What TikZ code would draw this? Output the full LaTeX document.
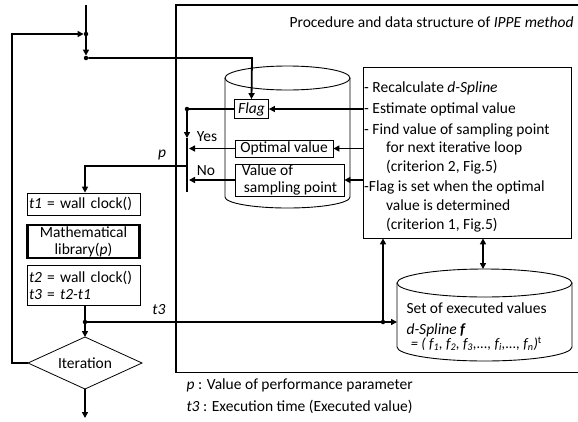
\documentclass[tikz,border=0pt]{standalone}
\usepackage{fontspec}
\setmainfont{Carlito}
\usetikzlibrary{arrows.meta}
\begin{document}
\begin{tikzpicture}[x=1pt,y=-1pt,
  every node/.style={font=\fontsize{15.5}{17}\selectfont},
  conn/.style={line width=1.8pt},
  arr/.style={conn,-{Triangle[length=6pt,width=6pt]}},
  dblarr/.style={conn,{Triangle[length=6pt,width=6pt]}-{Triangle[length=6pt,width=6pt]}},
  box/.style={draw,line width=0.8pt,inner sep=0pt},
  thickbox/.style={draw,line width=2.6pt,inner sep=0pt},
  jdot/.style={circle,fill,inner sep=0pt,minimum size=4.5pt},
  cyl/.style={line width=0.9pt}
]
\useasboundingbox (0,0) rectangle (578,421);

% outer frame (right side beyond the picture)
\draw[conn] (580,5) -- (176,5) -- (176,372.5) -- (580,372.5);
\node[anchor=east] (title) at (577,22) {Procedure and data structure of \textit{IPPE method}};

% cylinder 1
\draw[cyl,fill=white] (225,78) -- (225,197) .. controls (225,203.1) and (253,208) .. (287.5,208)
   .. controls (322,208) and (350,203.1) .. (350,197) -- (350,78);
\draw[cyl] (287.5,78) ellipse [x radius=62.5, y radius=12];

% cylinder 2
\draw[cyl] (397,283) -- (397,347) .. controls (397,354.7) and (436.2,361) .. (484.5,361)
   .. controls (532.8,361) and (572,354.7) .. (572,347) -- (572,283);
\draw[cyl] (484.5,283) ellipse [x radius=87.5, y radius=14];
\coordinate (cyl2w) at (397,322);
\coordinate (cyl2n) at (483,269);
\node[anchor=west] (setv) at (403,308) {Set of executed values};
\node[anchor=west] (dspl) at (403,330) {\textit{d-Spline} \textbf{\textit{f}}};
\node[anchor=west,font=\fontsize{14.5}{15}\selectfont\itshape] (formula) at (405,344)
  {\,= ( f\textsubscript{1}, f\textsubscript{2}, f\textsubscript{3},..., f\textsubscript{i},..., f\textsubscript{n})\textsuperscript{\upshape t}};

% boxes inside cylinder 1
\node[box, minimum width=34pt, minimum height=19pt] (flag) at (251.5,109) {\textit{Flag}};
\node[box, minimum width=98pt, minimum height=17pt] (opt) at (284,148.5) {Optimal value};
\node[box, minimum width=109pt, minimum height=32pt, align=left] (samp) at (289.5,180) {Value of\\\hspace*{2pt}sampling point};

% procedure text box
\node[box, minimum width=208pt, minimum height=171pt] (proc) at (467,152.5) {};
\node[anchor=north west, align=left, inner sep=0pt, font=\fontsize{15.5}{18.6}\selectfont] (proctxt) at (364,82)
 {- Recalculate \textit{d-Spline}\\[2pt]
  - Estimate optimal value\\[2pt]
  - Find value of sampling point\\
  \hspace*{22pt}for next iterative loop\\
  \hspace*{22pt}(criterion 2, Fig.5)\\[2pt]
  -Flag is set when the optimal\\
  \hspace*{22pt}value is determined\\
  \hspace*{22pt}(criterion 1, Fig.5)};

% left column
\node[box, minimum width=113pt, minimum height=22pt, text width=109pt, align=left] (t1) at (83.5,204) {\textit{t1} = wall clock()};
\node[thickbox, minimum width=112pt, minimum height=33pt, align=center] (lib) at (83.5,241.5) {Mathematical\\library(\textit{p})};
\node[box, minimum width=113pt, minimum height=40pt, text width=109pt, align=left] (t2) at (83.5,285.5) {\textit{t2} = wall clock()\\\textit{t3} = \textit{t2-t1}};

% diamond
\coordinate (dtop) at (85,337);
\coordinate (dleft) at (28,363);
\coordinate (dbot) at (85,389);
\coordinate (dright) at (142,363);
\draw[line width=0.8pt] (dtop) -- (dright) -- (dbot) -- (dleft) -- cycle;
\node (iter) at (85,363) {Iteration};

% junction dots / coordinates
\coordinate (start) at (86,5);
\node[jdot] (j1) at (86,34) {};
\node[jdot] (j2) at (86,58) {};
\coordinate (bendflag) at (252,58);
\node[jdot] (jf) at (187,109) {};
\coordinate (vmid) at (187,138);
\coordinate (vbot) at (187,192);
\coordinate (pstart) at (187,166);
\coordinate (pbend) at (85,166);
\node[jdot] (j3) at (85,322) {};
\node[jdot] (j4) at (383,322) {};
\coordinate (end) at (85,418);
\coordinate (loopb) at (12,363);
\coordinate (loopt) at (12,34);

% connectors
\draw[arr] (start) -- (j2);
\draw[arr] (dleft) -- (loopb) -- (loopt) -- (j1);
\draw[arr] (j2) -- (bendflag) -- (flag.north);
\draw[conn] (flag.west) -- (jf);
\draw[arr] (jf) -- (vmid);
\draw[conn] (vmid) -- (vbot);
\draw[arr] (opt.west) -- (189,148.5);
\draw[arr] (samp.west) -- (189,180);
\draw[arr] (pstart) -- (pbend) -- (t1.north -| pbend);
\draw[arr] (proc.west |- flag) -- (flag.east);
\draw[arr] (proc.west |- opt) -- (opt.east);
\draw[arr] (proc.west |- samp) -- (samp.east);
\draw[arr] (t2.south -| j3) -- (dtop);
\draw[arr] (j3) -- (cyl2w);
\draw[arr] (j4) -- (proc.south -| j4);
\draw[dblarr] (proc.south -| cyl2n) -- (cyl2n);
\draw[arr] (dbot) -- (end);

% labels
\node (yes) at (207,137) {Yes};
\node (no) at (206,171) {No};
\node (plab) at (162,155) {\textit{p}};
\node (t3lab) at (159,310) {\textit{t3}};

% legend
\node[anchor=west] (leg1) at (183,385) {\textit{p} : Value of performance parameter};
\node[anchor=west] (leg2) at (183,407) {\textit{t3} : Execution time (Executed value)};
\end{tikzpicture}
\end{document}
